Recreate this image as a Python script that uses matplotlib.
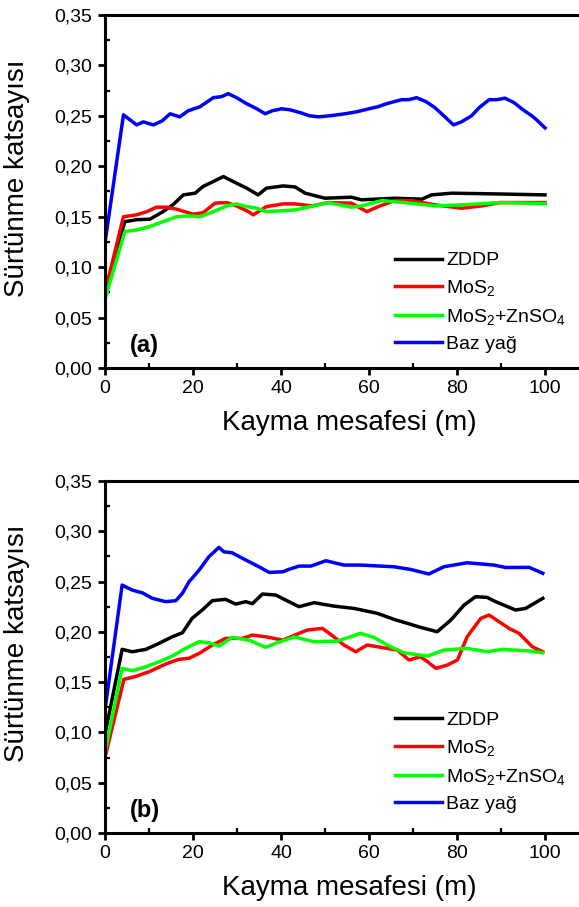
import matplotlib
matplotlib.use("Agg")
import matplotlib.pyplot as plt
from matplotlib.ticker import MultipleLocator, FuncFormatter

plt.rcParams["font.family"] = ["Liberation Sans", "DejaVu Sans"]
plt.rcParams["mathtext.fontset"] = "custom"
plt.rcParams["mathtext.rm"] = "Liberation Sans"
plt.rcParams["mathtext.default"] = "regular"

labels = ["ZDDP", "MoS$_2$", "MoS$_2$+ZnSO$_4$", "Baz yağ"]
colors = ["#000000", "#ff0000", "#00ff00", "#0000ff"]

# (a) panel
a_zddp_x = [0, 4.5, 7.2, 10.2, 13.2, 15.5, 17.8, 20.5, 22.3, 24.6, 26.9, 29.9, 32.2, 34.8, 36.7,
            40.5, 43.2, 45.5, 50, 56, 58.3, 65.9, 72, 74.2, 78.8, 88.6, 100]
a_zddp_y = [0.075, 0.145, 0.147, 0.1475, 0.155, 0.162, 0.1716, 0.1733, 0.180, 0.1848, 0.1898,
            0.1832, 0.1783, 0.1716, 0.1783, 0.1805, 0.1795, 0.1733, 0.1683, 0.1693, 0.1667,
            0.1683, 0.1673, 0.1716, 0.1733, 0.1726, 0.1716]
a_mos2_x = [0, 4.2, 7.2, 9.5, 11.7, 14, 16.3, 20.1, 22.3, 25, 27.7, 29.9, 32.6, 33.7, 36.7, 40.5,
            43.2, 47, 50.8, 56, 59.5, 62.1, 65.9, 69.7, 75, 81, 85.6, 89.8, 100]
a_mos2_y = [0.075, 0.150, 0.1518, 0.155, 0.1594, 0.1594, 0.1574, 0.1525, 0.154, 0.1634, 0.164,
            0.1607, 0.155, 0.1518, 0.160, 0.1627, 0.1627, 0.1607, 0.164, 0.1634, 0.155, 0.160,
            0.166, 0.166, 0.1617, 0.1584, 0.1607, 0.164, 0.164]
a_mix_x = [0, 4.5, 7.2, 10.2, 13.2, 16.3, 19.4, 21.6, 24.6, 27.7, 29.9, 32.2, 34.5, 36.7, 40.5,
           43.2, 48.5, 50.8, 56, 58.3, 62.9, 68.2, 75, 81, 89.8, 100]
a_mix_y = [0.068, 0.1352, 0.1369, 0.1402, 0.1451, 0.150, 0.1508, 0.150, 0.155, 0.1607, 0.1627,
           0.160, 0.1584, 0.155, 0.156, 0.1567, 0.1617, 0.164, 0.1594, 0.1607, 0.166, 0.164,
           0.1607, 0.1617, 0.164, 0.163]
a_baz_x = [0, 4.2, 7.2, 8.7, 11, 13, 14.8, 17, 18.9, 21.6, 24.6, 26.5, 28, 29.9, 32.2, 34.5, 36.4,
           38, 40.2, 42, 44.5, 46.5, 48.5, 51, 54.5, 57.2, 60, 62, 64, 67.4, 69, 70.8, 73, 75, 77,
           79.2, 81, 83.3, 85, 87.3, 89, 90.9, 93, 95, 97, 98.1, 100]
a_baz_y = [0.124, 0.251, 0.241, 0.244, 0.241, 0.245, 0.252, 0.249, 0.255, 0.259, 0.268, 0.269,
           0.272, 0.268, 0.262, 0.257, 0.252, 0.255, 0.257, 0.256, 0.253, 0.250, 0.249, 0.250,
           0.252, 0.254, 0.257, 0.259, 0.262, 0.266, 0.266, 0.268, 0.264, 0.258, 0.250, 0.241,
           0.244, 0.250, 0.258, 0.266, 0.266, 0.2675, 0.263, 0.256, 0.250, 0.246, 0.238]

# (b) panel
b_zddp_x = [0, 3.9, 6.2, 9.3, 12.3, 15.3, 17.6, 19.8, 22.1, 24.4, 27.4, 29.7, 32, 33.5, 35.8,
            38.8, 41.8, 44.1, 47.5, 52, 56.6, 61.9, 65.7, 71.7, 75.5, 78.6, 81.6, 84.2, 86.8,
            88.8, 93.3, 95.6, 99.5]
b_zddp_y = [0.098, 0.1826, 0.1802, 0.1826, 0.1886, 0.1951, 0.1991, 0.2134, 0.2217, 0.231,
            0.2323, 0.2276, 0.230, 0.228, 0.2376, 0.2366, 0.230, 0.225, 0.229, 0.2256, 0.2233,
            0.2184, 0.2124, 0.2045, 0.2001, 0.2117, 0.2266, 0.2349, 0.2343, 0.230, 0.2217,
            0.2233, 0.2333]
b_mos2_x = [0, 4.3, 6.8, 10, 13.8, 16.8, 19.1, 21.4, 24.4, 27.4, 31.2, 33.5, 36.5, 40.4, 44.1,
            46, 49.4, 52, 54.3, 57, 59.6, 62.7, 66.4, 69.1, 71.7, 73.3, 75.2, 77.8, 80.1, 82.3,
            85.4, 87.3, 91.8, 94.1, 97.1, 99.5]
b_mos2_y = [0.075, 0.1528, 0.1554, 0.1603, 0.168, 0.1727, 0.1737, 0.1786, 0.1869, 0.1935,
            0.1935, 0.1968, 0.1951, 0.1918, 0.1985, 0.2018, 0.2035, 0.1951, 0.1869, 0.1802,
            0.1869, 0.1846, 0.1819, 0.172, 0.1753, 0.1703, 0.1637, 0.167, 0.172, 0.1951, 0.2134,
            0.2167, 0.2035, 0.1985, 0.1852, 0.1802]
b_mix_x = [0, 3.9, 6.2, 9.3, 12.3, 15.3, 18.3, 21.4, 23.6, 25.9, 28.9, 32.7, 36.5, 38.8, 43,
           47.5, 52.8, 58.1, 61.1, 64.9, 67.9, 73.3, 77, 82.3, 86.8, 90.3, 96.4, 99.5]
b_mix_y = [0.08, 0.1637, 0.1613, 0.1653, 0.1703, 0.1759, 0.1836, 0.1902, 0.1892, 0.1859, 0.1945,
           0.1918, 0.1846, 0.1886, 0.195, 0.1902, 0.1908, 0.1985, 0.1945, 0.1852, 0.1792, 0.1759,
           0.1819, 0.1836, 0.1802, 0.1826, 0.181, 0.1792]
b_baz_x = [0, 3.9, 6.2, 8.5, 10.8, 13.8, 16.1, 17.6, 19.1, 21.4, 23.6, 25.9, 27, 28.9, 32, 35,
           37.3, 40.4, 41.8, 44.1, 46.8, 50.2, 54.3, 58.1, 65.7, 69.5, 73.6, 77, 82.3, 88.4, 91,
           96.4, 99.5]
b_baz_y = [0.1223, 0.2465, 0.2415, 0.2388, 0.2333, 0.230, 0.231, 0.2383, 0.2498, 0.2614,
           0.2746, 0.284, 0.2796, 0.2786, 0.2714, 0.2647, 0.2591, 0.2597, 0.2621, 0.2654,
           0.2654, 0.2707, 0.2664, 0.2664, 0.2647, 0.262, 0.2575, 0.2647, 0.2687, 0.2664, 0.264,
           0.2641, 0.2582]

panels = [
    ("(a)", 0.329, [(a_zddp_x, a_zddp_y), (a_mos2_x, a_mos2_y), (a_mix_x, a_mix_y), (a_baz_x, a_baz_y)]),
    ("(b)", 0.345, [(b_zddp_x, b_zddp_y), (b_mos2_x, b_mos2_y), (b_mix_x, b_mix_y), (b_baz_x, b_baz_y)]),
]

fig = plt.figure(figsize=(5.79, 9.07), dpi=100)
rects = [[0.1813, 0.5943, 0.836, 0.3892], [0.1813, 0.0816, 0.836, 0.3881]]

comma = FuncFormatter(lambda v, p: f"{v:.2f}".replace(".", ","))

for rect, (tag, leg_y, series) in zip(rects, panels):
    ax = fig.add_axes(rect)
    for (xs, ys), lab, col in zip(series, labels, colors):
        ax.plot(xs, ys, color=col, lw=2.5, label=lab, solid_joinstyle="round")
    ax.set_xlim(0, 110)
    ax.set_ylim(0, 0.35)
    ax.xaxis.set_major_locator(MultipleLocator(20))
    ax.xaxis.set_minor_locator(MultipleLocator(10))
    ax.yaxis.set_major_locator(MultipleLocator(0.05))
    ax.yaxis.set_minor_locator(MultipleLocator(0.025))
    ax.yaxis.set_major_formatter(comma)
    for s in ax.spines.values():
        s.set_linewidth(2.2)
    ax.tick_params(which="major", direction="out", length=5, width=2, labelsize=14, pad=4)
    ax.tick_params(which="minor", direction="in", length=3.5, width=1.6)
    ax.set_xlabel("Kayma mesafesi (m)", fontsize=20)
    ax.set_ylabel("Sürtünme katsayısı", fontsize=20)
    ax.xaxis.set_label_coords(0.504, -0.12)
    ax.yaxis.set_label_coords(-0.155, 0.538)
    ax.text(0.052, 0.065, tag, transform=ax.transAxes, fontsize=17, fontweight="bold",
            ha="left", va="center")
    ax.legend(loc="upper left", bbox_to_anchor=(0.599, leg_y), frameon=False, fontsize=14,
              borderpad=0, borderaxespad=0, handlelength=2.4, handletextpad=0.25,
              labelspacing=0.45)

fig.savefig("out.png", dpi=100)
